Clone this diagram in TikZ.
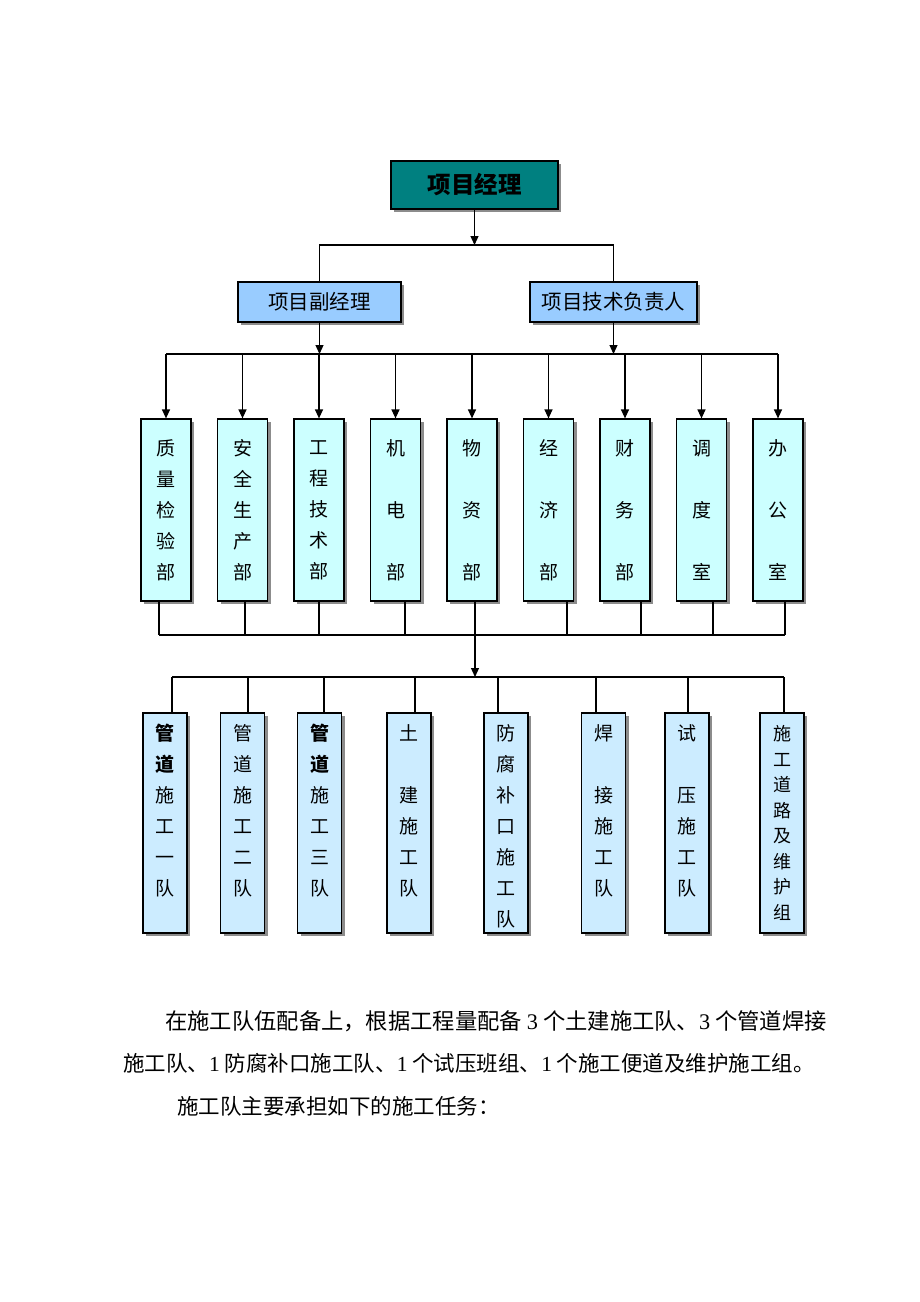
\documentclass[tikz,border=0pt]{standalone}
\usepackage{fontspec}
\setmainfont{Noto Sans CJK SC}
\newfontfamily\lat{Liberation Serif}
\usetikzlibrary{arrows.meta,shadows}
\definecolor{cTop}{RGB}{0,128,128}
\definecolor{cSec}{RGB}{153,204,255}
\definecolor{cDep}{RGB}{204,255,255}
\definecolor{cTeam}{RGB}{204,236,255}
\definecolor{cShadow}{RGB}{140,140,140}
\newcommand\teamstrut{\rule{0pt}{22.7pt}}
\begin{document}
\begin{tikzpicture}[x=1pt,y=-1pt,
  box/.style={draw=black, line width=1.2pt, inner sep=0pt,
    drop shadow={shadow xshift=3pt,shadow yshift=-3pt,fill=cShadow,opacity=1}},
  topbox/.style={box, fill=cTop, minimum width=167, minimum height=48,
    font=\fontsize{23.5}{23.5}\selectfont\bfseries},
  secbox/.style={box, fill=cSec, minimum height=40,
    font=\fontsize{20.5}{20.5}\selectfont},
  dept/.style={box, fill=cDep, minimum width=50, minimum height=182,
    align=center, font=\fontsize{19}{31}\selectfont},
  team/.style={box, fill=cTeam, minimum width=44, minimum height=220,
    align=center, font=\fontsize{19}{31}\selectfont},
  conn/.style={line width=1.2pt, draw=black},
  arr/.style={conn, -{Triangle[length=9pt,width=8pt]}},
  para/.style={anchor=base west, inner sep=0pt, font=\fontsize{21.5}{21.5}\selectfont}
]
\useasboundingbox[fill=white] (0,0) rectangle (920,1302);

% top levels
\node[topbox] (pm) at (474.5,185) {项目经理};
\node[secbox, minimum width=163] (vp) at (319.5,302) {项目副经理};
\node[secbox, minimum width=167] (tp) at (613.5,302) {项目技术负责人};

% departments
\node[dept] (d1) at (166,510)   {质\\量\\检\\验\\部};
\node[dept] (d2) at (242.5,510) {安\\全\\生\\产\\部};
\node[dept] (d3) at (319,510)   {工\\程\\技\\术\\部};
\node[dept] (d4) at (395.5,510) {机\\[31pt]电\\[31pt]部};
\node[dept] (d5) at (472,510)   {物\\[31pt]资\\[31pt]部};
\node[dept] (d6) at (548.5,510) {经\\[31pt]济\\[31pt]部};
\node[dept] (d7) at (625,510)   {财\\[31pt]务\\[31pt]部};
\node[dept] (d8) at (701.5,510) {调\\[31pt]度\\[31pt]室};
\node[dept] (d9) at (778,510)   {办\\[31pt]公\\[31pt]室};

% teams
\node[team] (t1) at (165,823)   {\teamstrut\textbf{管}\\\textbf{道}\\施\\工\\一\\队\\\phantom{队}};
\node[team] (t2) at (242.5,823) {\teamstrut{}管\\道\\施\\工\\二\\队\\\phantom{队}};
\node[team] (t3) at (319.5,823) {\teamstrut\textbf{管}\\\textbf{道}\\施\\工\\三\\队\\\phantom{队}};
\node[team] (t4) at (409,823)   {\teamstrut{}土\\[31pt]建\\施\\工\\队\\\phantom{队}};
\node[team] (t5) at (506,823)   {\teamstrut{}防\\腐\\补\\口\\施\\工\\队};
\node[team] (t6) at (603.5,823) {\teamstrut{}焊\\[31pt]接\\施\\工\\队\\\phantom{队}};
\node[team] (t7) at (687,823)   {\teamstrut{}试\\[31pt]压\\施\\工\\队\\\phantom{队}};
\node[team, font=\fontsize{18}{25.5}\selectfont] (t8) at (782,823) {施\\工\\道\\路\\及\\维\\护\\组};

% connectors level 1
\coordinate (j1) at (474.5,245);
\draw[conn] (vp.north) |- (j1) -| (tp.north);
\draw[arr] (pm.south) -- (j1);

% connectors level 2
\coordinate (j2) at (474.5,354);
\draw[arr] (vp.south) -- (vp.south |- j2);
\draw[arr] (tp.south) -- (tp.south |- j2);
\draw[conn] (d1.north |- j2) -- (d9.north |- j2);
\foreach \i in {1,...,9} \draw[arr] (d\i.north |- j2) -- (d\i.north);

% connectors level 3
\coordinate (j3) at (475,635);
\foreach \i/\dx in {1/-7,2/2.5,3/0,4/9.5,5/3,6/18.5,7/16,8/11.5,9/7}
  \draw[conn] ([xshift=\dx pt]d\i.south) -- ([xshift=\dx pt]d\i.south |- j3);
\draw[conn] ([xshift=-7pt]d1.south |- j3) -- ([xshift=7pt]d9.south |- j3);
\coordinate (j4) at (475,677);
\draw[arr] (j3) -- (j4);

% connectors level 4
\draw[conn] ([xshift=7pt]t1.north |- j4) -- ([xshift=2pt]t8.north |- j4);
\foreach \i/\dx in {1/7,2/5.5,3/4.5,4/6,5/-8,6/-7.5,7/1,8/2}
  \draw[conn] ([xshift=\dx pt]t\i.north |- j4) -- ([xshift=\dx pt]t\i.north);

% paragraph text
\node[para, font=\fontsize{22.3}{22.3}\selectfont] (p1) at (165,1029) {在施工队伍配备上，根据工程量配备 {\lat 3} 个土建施工队、{\lat 3} 个管道焊接};
\node[para] (p2) at (123,1071) {施工队、{\lat 1} 防腐补口施工队、{\lat 1} 个试压班组、{\lat 1} 个施工便道及维护施工组。};
\node[para] (p3) at (177,1114) {施工队主要承担如下的施工任务：};
\end{tikzpicture}
\end{document}
